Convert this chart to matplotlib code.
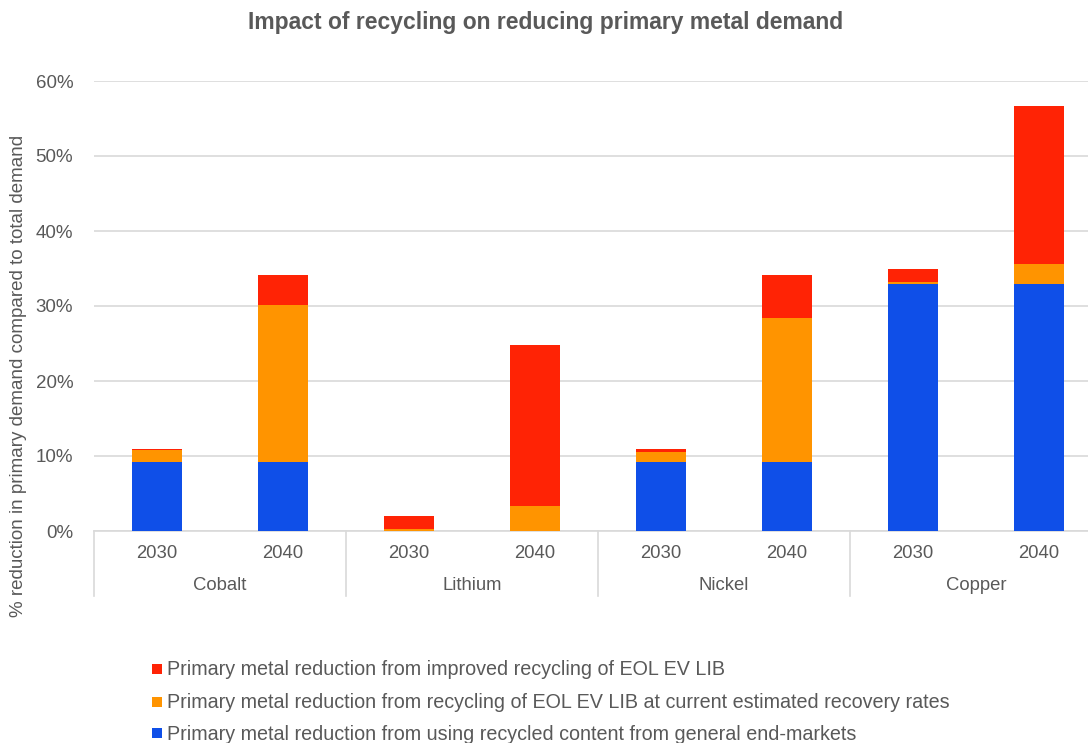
import matplotlib
matplotlib.use("Agg")
import matplotlib.pyplot as plt
from matplotlib.patches import Rectangle
import numpy as np

metals = ["Cobalt", "Lithium", "Nickel", "Copper"]
years = ["2030", "2040"]
# values in % (stack order: bottom -> top)
general_end_markets = [9.2, 9.2, 0.0, 0.0, 9.2, 9.2, 32.9, 32.9]
current_recovery = [1.6, 20.9, 0.3, 3.3, 1.4, 19.2, 0.3, 2.7]
improved_recycling = [0.2, 4.0, 1.7, 21.5, 0.4, 5.7, 1.7, 21.1]
y_ticks = [0, 10, 20, 30, 40, 50, 60]

series_labels = [
    "Primary metal reduction from using recycled content from general end-markets",
    "Primary metal reduction from recycling of EOL EV LIB at current estimated recovery rates",
    "Primary metal reduction from improved recycling of EOL EV LIB",
]
colors = ["#0F4FE8", "#FF9400", "#FF2305"]
text_color = "#595959"
grid_color = "#D9D9D9"

plt.rcParams["font.family"] = ["Liberation Sans", "DejaVu Sans"]

W, H = 1088, 743
fig = plt.figure(figsize=(W / 100, H / 100), dpi=100)
left_px, right_px, top_px, bottom_px = 94, 1102, 81, 531
ax = fig.add_axes([left_px / W, 1 - bottom_px / H, (right_px - left_px) / W, (bottom_px - top_px) / H])

n = len(metals) * len(years)
x = np.arange(n)
bar_w = 0.4
bottom = np.zeros(n)
for vals, col, lab in zip([general_end_markets, current_recovery, improved_recycling], colors, series_labels):
    v = np.array(vals)
    ax.bar(x, v, bar_w, bottom=bottom, color=col, label=lab, zorder=3, linewidth=0)
    bottom += v

ax.set_xlim(-0.5, n - 0.5)
ax.set_ylim(0, 60)
ax.set_yticks(y_ticks)
ax.set_yticklabels([f"{t}%" for t in y_ticks], color=text_color, fontsize=13.5)
ax.tick_params(axis="y", length=0, pad=15)
ax.set_xticks([])
ax.yaxis.grid(True, color=grid_color, linewidth=1.2, zorder=0)
for s in ["top", "right", "left"]:
    ax.spines[s].set_visible(False)
ax.spines["bottom"].set_color(grid_color)
ax.spines["bottom"].set_linewidth(1.2)

trans = ax.get_xaxis_transform()
ah = bottom_px - top_px
y_year = -(553 - bottom_px) / ah
y_metal = -(586 - bottom_px) / ah
y_sep = -(596 - bottom_px) / ah
for i in range(n):
    ax.text(x[i], y_year, years[i % 2], transform=trans, ha="center", va="center",
            color=text_color, fontsize=13.3)
for g, m in enumerate(metals):
    ax.text(2 * g + 0.5, y_metal, m, transform=trans, ha="center", va="center",
            color=text_color, fontsize=13.3)
for g in range(len(metals) + 1):
    ax.plot([2 * g - 0.5, 2 * g - 0.5], [0, y_sep], transform=trans, color=grid_color,
            linewidth=1.2, clip_on=False)

fig.text(19 / W, 1 - 376 / H, "% reduction in primary demand compared to total demand",
         rotation=90, ha="center", va="center", color=text_color, fontsize=13.5)

fig.text(546 / W, 1 - 22 / H, "Impact of recycling on reducing primary metal demand",
         ha="center", va="center", fontsize=16.5, fontweight="bold", color=text_color)

# legend (reversed order, top entry = top of stack)
leg_rows = [668.5, 701.5, 733]
for yc, lab, col in zip(leg_rows, series_labels[::-1], colors[::-1]):
    fig.patches.append(Rectangle((152 / W, 1 - (yc + 5) / H), 10 / W, 10 / H,
                                 transform=fig.transFigure, facecolor=col,
                                 edgecolor="none"))
    fig.text(167 / W, 1 - (yc + 1) / H, lab, ha="left", va="center",
             color=text_color, fontsize=14.2)

fig.savefig("out.png", dpi=100)
